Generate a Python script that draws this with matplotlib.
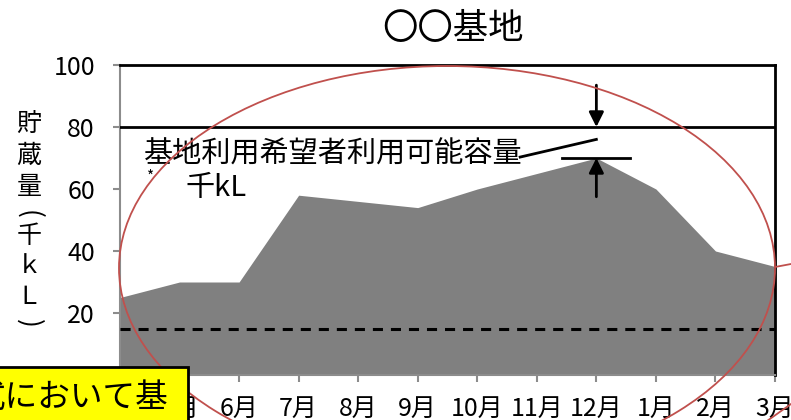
import matplotlib
matplotlib.use("Agg")
import matplotlib.pyplot as plt
from matplotlib.patches import Ellipse, Rectangle
from matplotlib.lines import Line2D

plt.rcParams['font.family'] = ['Noto Sans CJK JP', 'DejaVu Sans']

months = ["4月", "5月", "6月", "7月", "8月", "9月", "10月", "11月", "12月", "1月", "2月", "3月"]
storage = [25, 30, 30, 58, 56, 54, 60, 65, 70, 60, 40, 35]
capacity_line = 80
min_line = 15
yticks = [0, 20, 40, 60, 80, 100]
title = "〇〇基地"
ylabel_chars = ["貯", "蔵", "量", "(", "千", "ｋ", "Ｌ", ")"]
note_text = "基地利用希望者利用可能容量"
note_unit = "千kL"
box_text = "式において基"

W, H = 791, 420
fig = plt.figure(figsize=(W / 100, H / 100), dpi=100)
ax = fig.add_axes([120 / W, 1 - 375 / H, 655 / W, 310 / H])

x = list(range(len(months)))
ax.fill_between(x, storage, 0, color="#808080", lw=0, zorder=1)
ax.axhline(capacity_line, color="black", lw=2, zorder=3)
ax.axhline(min_line, color="black", lw=2.2, ls=(0, (3.3, 2.6)), zorder=3)

ax.set_xlim(0, len(months) - 1)
ax.set_ylim(0, 100)
ax.set_xticks(x)
ax.set_xticklabels(months, fontsize=18)
ax.set_yticks(yticks)
ax.set_yticklabels([str(v) for v in yticks], fontsize=18)
ax.tick_params(axis="both", color="#8c8c8c", length=5, width=1.5)
ax.tick_params(axis="x", pad=10)
ax.tick_params(axis="y", pad=13)
ax.spines["left"].set_color("#8c8c8c")
ax.spines["left"].set_linewidth(1.5)
ax.spines["bottom"].set_color("#8c8c8c")
ax.spines["bottom"].set_linewidth(1.5)
ax.spines["top"].set_color("black")
ax.spines["top"].set_linewidth(2)
ax.spines["right"].set_color("black")
ax.spines["right"].set_linewidth(2)

# annotations
peak_i = storage.index(max(storage))
peak = max(storage)
ax.annotate("", xy=(peak_i, capacity_line), xytext=(peak_i, 93.5),
            arrowprops=dict(arrowstyle="-|>", color="black", lw=2, mutation_scale=22,
                            shrinkA=0, shrinkB=0), zorder=5)
ax.annotate("", xy=(peak_i, peak), xytext=(peak_i, 57.5),
            arrowprops=dict(arrowstyle="-|>", color="black", lw=2, mutation_scale=22,
                            shrinkA=0, shrinkB=0), zorder=5)
ax.plot([peak_i - 0.57, peak_i + 0.57], [peak, peak], color="black", lw=2, zorder=5)
ax.plot([6.72, peak_i], [70.3, 76.0], color="black", lw=2, zorder=5)
ax.text(0.40, 71.0, note_text, fontsize=21, ha="left", va="center", zorder=6)
ax.text(0.45, 63.8, "*", fontsize=11, ha="left", va="center", zorder=6)
ax.text(1.10, 60.3, note_unit, fontsize=21, ha="left", va="center", zorder=6)

# title
fig.text(453 / W, 1 - 29 / H, title, fontsize=25.5, ha="center", va="center")

# vertical y label
ys = [124, 156, 187, 214, 236, 266, 297, 323]
for ch, yy in zip(ylabel_chars, ys):
    rot = -90 if ch in ("(", ")") else 0
    fs = 19 if ch in ("(", ")") else 18
    fig.text(29 / W, 1 - yy / H, ch, fontsize=fs, ha="center", va="center", rotation=rot)

# red ellipse overlay
ell = Ellipse((447 / W, 1 - 268 / H), 656 / W, 404 / H, transform=fig.transFigure,
              fill=False, edgecolor="#C0504D", lw=1.3, zorder=20)
fig.add_artist(ell)
fig.add_artist(Line2D([775 / W, 791 / W], [1 - 267 / H, 1 - 264 / H], transform=fig.transFigure,
                      color="#C0504D", lw=1.3, zorder=20))
fig.add_artist(Line2D([767 / W, 791 / W], [1 - 421 / H, 1 - 404 / H], transform=fig.transFigure,
                      color="#C0504D", lw=1.3, zorder=20))

# yellow box overlay
box = Rectangle((-10 / W, 1 - 440 / H), 198 / W, 73 / H, transform=fig.transFigure,
                facecolor="#FFFF00", edgecolor="black", lw=2, zorder=30)
fig.add_artist(box)
fig.text(168 / W, 1 - 398 / H, box_text, fontsize=23.5, ha="right", va="center", zorder=31)

fig.savefig("out.png", dpi=100)
